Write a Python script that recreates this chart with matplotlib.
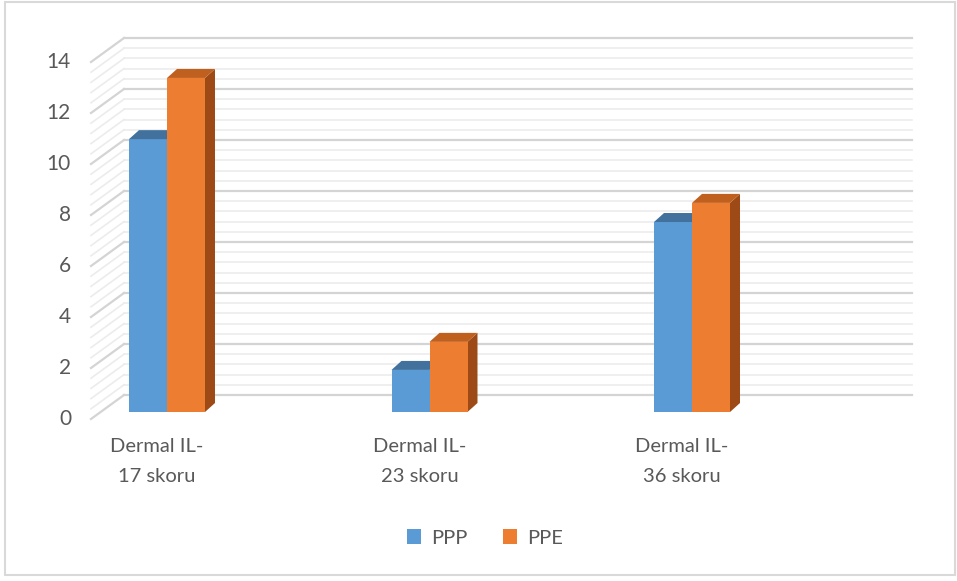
import matplotlib
matplotlib.use("Agg")
import matplotlib.pyplot as plt
from matplotlib.patches import Polygon, Patch, Rectangle
import numpy as np

categories = ["Dermal IL-\n17 skoru", "Dermal IL-\n23 skoru", "Dermal IL-\n36 skoru"]
series_names = ["PPP", "PPE"]
ppp = [10.7, 1.65, 7.45]
ppe = [13.1, 2.75, 8.2]
y_ticks = [0, 2, 4, 6, 8, 10, 12, 14]

blue = ["#5B9BD5", "#41719C", "#3A6690"]     # front, top, side
orange = ["#ED7D31", "#C0601F", "#9E4A16"]

plt.rcParams['font.family'] = ['Lato', 'DejaVu Sans']

W, H = 957, 581
fig = plt.figure(figsize=(W / 100, H / 100), dpi=100)

# axes = plane of the bar fronts, in pixels
left_px, right_px = 101, 889
zero_px, px_per_unit = 412, 25.5
cat_px = 167
cat_step = 262.5
ymax = 14
ax = fig.add_axes([left_px / W, (H - zero_px) / H, (right_px - left_px) / W,
                   ymax * px_per_unit / H])
x0 = (left_px - cat_px) / cat_step
x1 = (right_px - cat_px) / cat_step
ax.set_xlim(x0, x1)
ax.set_ylim(0, ymax)
ax.axis("off")

def dxu(px):
    return px / cat_step

def dyu(px):
    return px / px_per_unit

# wall: back plane offset (+23, +17 px), front plane offset (-10, -7 px)
bx, by = dxu(23), dyu(17)
fx, fy = dxu(-10), dyu(-7)
for k, g in enumerate(np.arange(0, ymax + 0.01, 0.4)):
    major = k % 5 == 0
    col = "#d4d4d4" if major else "#ececec"
    lw = 1.6 if major else 1.2
    ax.plot([x0 + bx, x1 + bx], [g + by, g + by], color=col, lw=lw,
            clip_on=False, zorder=0)
    ax.plot([x0 + fx, x0 + bx], [g + fy, g + by], color=col, lw=lw,
            clip_on=False, zorder=0)

# bars
bw = dxu(38)
tdx, tdy = dxu(10), dyu(9)
x = np.arange(len(categories))
for vals, cols, off in [(ppp, blue, -1), (ppe, orange, 0)]:
    for xi, v in zip(x, vals):
        xl = xi + off * bw
        xr = xl + bw
        ax.add_patch(Polygon([(xr, 0), (xr + tdx, tdy), (xr + tdx, v + tdy), (xr, v)],
                             closed=True, facecolor=cols[2], edgecolor="none", zorder=3))
        ax.bar(xl, v, width=bw, align="edge", color=cols[0], zorder=4)
        ax.add_patch(Polygon([(xl, v), (xr, v), (xr + tdx, v + tdy), (xl + tdx, v + tdy)],
                             closed=True, facecolor=cols[1], edgecolor="none", zorder=4))

# y tick labels on front plane
for t in y_ticks:
    ax.text(x0 + fx - dxu(20), t + fy, str(t), ha="right", va="center",
            fontsize=15, color="#595959")

# category labels
for xi, c in zip(x, categories):
    ax.text(xi + fx, -dyu(26), c, ha="center", va="top", fontsize=14.5,
            color="#595959", linespacing=1.9, multialignment="center")

handles = [Patch(facecolor=blue[0]), Patch(facecolor=orange[0])]
fig.legend(handles, series_names, loc="center", bbox_to_anchor=(485 / W, 1 - 538 / H),
           ncol=2, frameon=False, fontsize=14.5, handlelength=0.7, handleheight=0.7,
           columnspacing=1.8, handletextpad=0.5, labelcolor="#595959")

fig.patches.append(Rectangle((5 / W, 1 - 575 / H), 950 / W, 573 / H,
                             transform=fig.transFigure, fill=False,
                             edgecolor="#d9d9d9", lw=1.5))

fig.savefig("out.png", dpi=100, facecolor="white")
